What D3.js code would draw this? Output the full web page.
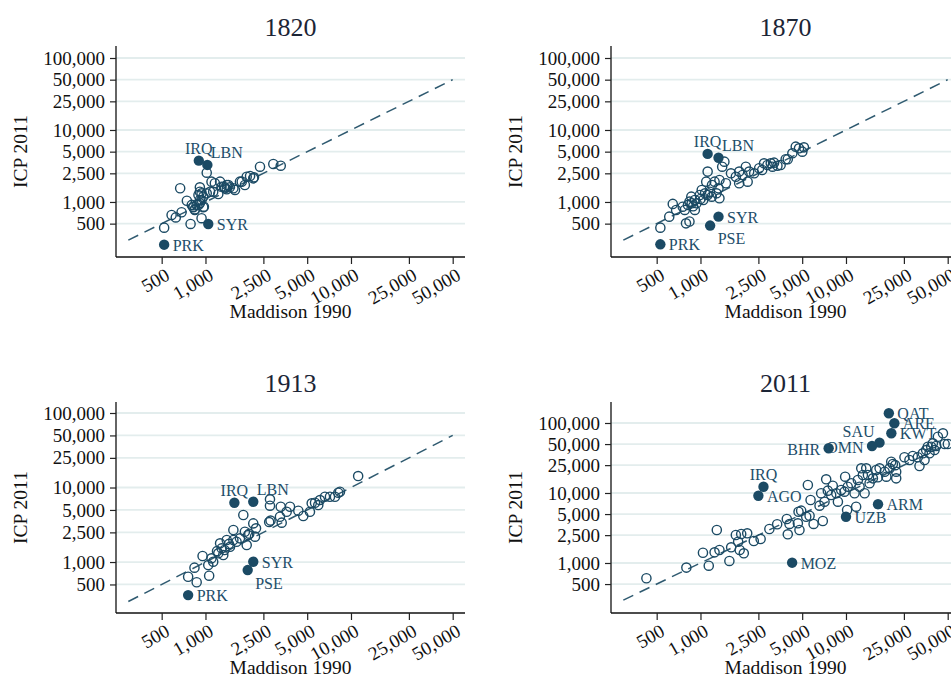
<!DOCTYPE html>
<html><head><meta charset="utf-8">
<script src="https://cdn.jsdelivr.net/npm/d3@7"></script>
<style>body{margin:0;background:#fff}svg{display:block}</style>
</head><body><svg id="c" width="951" height="678"></svg>
<script>
// ---------------- DATA ----------------
const xTicks = [500, 1000, 2500, 5000, 10000, 25000, 50000];
const yTicks = [500, 1000, 2500, 5000, 10000, 25000, 50000, 100000];
const years = ["1820", "1870", "1913", "2011"];
const xTitle = "Maddison 1990";
const yTitle = "ICP 2011";
const fitRange = [295, 50000]; // 45-degree reference line

// unlabelled countries: [Maddison 1990, ICP 2011]
const open1820 = [[520,440],[585,660],[625,610],[685,720],[670,1550],[745,1040],[790,495],[805,910],[845,775],[825,860],
[915,1600],[940,595],[915,1065],[895,910],[965,1185],[940,1320],[975,860],[1020,1320],[1075,1390],[1160,1820],
[1260,1915],[1225,1290],[1130,1390],[1400,1720],[1470,1600],[1400,1500],[1555,1550],[1775,1915],[1865,1720],[1920,2245],
[2025,2295],[2155,2200],[2370,3090],[2925,3375],[3290,3190],[1340,1630],[1020,2550],[825,845],[870,910],[915,960],
[965,845],[845,790],[940,1065],[915,1390],[895,1250],[1290,1630],[1360,1550],[1435,1720],[1595,1470],[1725,1915],[2130,2130],[1100,1915]];
const open1870 = [[530,440],[1460,3630],[1410,3090],[1120,2640],[1095,1915],[1250,1915],[1350,2020],[1330,1550],[1350,1125],[1200,1720],
[1495,1820],[1620,2500],[1750,2245],[1845,2640],[2050,3090],[2160,2640],[2340,2500],[1945,2370],[1845,1820],[2110,1915],
[2530,2940],[2735,3445],[2885,3265],[3040,3445],[3205,3515],[3125,3090],[3555,3265],[3850,3920],[4280,4745],[4515,5865],
[4755,5570],[5010,5000],[5140,5740],[645,940],[680,775],[610,625],[795,505],[840,535],[780,775],[820,910],
[865,1185],[840,1010],[915,1065],[940,960],[990,1250],[1020,1470],[1045,1065],[1075,1320],[1160,1390],[1195,1185],
[1290,1320],[915,775],[755,860],[2655,2780],[3380,3190],[3980,3920],[870,960],[1000,1100],[1120,1250],[890,870]];
const open1913 = [[760,635],[870,535],[840,840],[955,1205],[1060,655],[1045,910],[1130,1010],[1100,1120],[1225,1310],[1260,1780],
[1325,1240],[1290,1525],[1400,1975],[1475,1600],[1555,1975],[1555,2690],[1635,1870],[1725,2080],[1820,4280],[1865,2550],
[1920,1690],[1965,2300],[2130,3300],[2190,2190],[2225,2830],[2775,6950],[2775,5700],[2740,3440],[3250,4055],[3340,3375],
[3290,5520],[3810,5520],[3615,4730],[4345,4885],[4700,4145],[5225,4730],[5370,6140],[5660,6250],[5960,5820],[6120,6790],
[6625,7520],[7170,7520],[7760,7520],[8180,8510],[8400,8790],[11200,14250],[1350,1450],[1450,1750],[1200,1400],[2000,2400],[2800,3600]];
const open2011 = [[425,605],[800,860],[1040,1400],[1140,915],[1250,1420],[1350,1535],[1295,2960],[1580,1070],[1625,1675],[1750,2510],
[1815,2015],[1860,1535],[1905,2595],[1985,1375],[2095,2655],[2325,2060],[2590,2200],[2975,3060],[3365,3575],[3980,2570],
[3920,4250],[4090,3610],[4670,3690],[4790,2960],[4720,5400],[4920,5590],[5330,4580],[5620,4740],[5990,3610],[5470,13000],
[5710,7940],[6580,6590],[6930,3980],[6750,9910],[7310,15700],[7500,10800],[7120,7510],[8110,12700],[7910,9360],[8570,9910],
[8800,7510],[9270,11040],[9770,10450],[9870,17100],[10280,12300],[10180,5720],[11740,6370],[11450,9910],[10870,13770],[12070,15350],
[12730,22540],[13780,22540],[13430,9910],[12400,12300],[13060,18070],[14520,13770],[14150,18070],[15310,16200],[16140,21330],[17020,22540],
[16580,16750],[18440,20140],[18940,17100],[19970,22540],[20460,28000],[21000,25950],[22130,20140],[22130,16200],[21800,25000],[25230,32400],
[27300,29600],[28780,33800],[31160,32400],[32000,24300],[33730,36900],[34660,29600],[35550,41100],[37490,36900],[38530,45800],[40600,41100],
[41700,46900],[39550,51200],[42830,63600],[46380,71300],[47660,50100],[50100,50100],[36500,45800]];

// labelled countries: [code, Maddison 1990, ICP 2011]
const lab1820 = [["IRQ",900,3750],["LBN",1030,3270],["SYR",1045,495],["PRK",520,255]];
const lab1870 = [["IRQ",1120,4650],["LBN",1330,4120],["SYR",1330,625],["PSE",1165,470],["PRK",530,258]];
const lab1913 = [["IRQ",1580,6250],["LBN",2130,6440],["SYR",2130,1010],["PSE",1950,780],["PRK",760,360]];
const lab2011 = [["QAT",19700,137700],["ARE",21500,99000],["KWT",20500,71300],["SAU",17000,52400],["OMN",15100,46900],
["BHR",7600,43500],["IRQ",2710,12300],["AGO",2500,9140],["ARM",16600,6900],["UZB",10000,4580],["MOZ",4265,1010]];

const openData = {"1820":open1820,"1870":open1870,"1913":open1913,"2011":open2011};
const labData = {"1820":lab1820,"1870":lab1870,"1913":lab1913,"2011":lab2011};

// ---------------- LAYOUT / STYLE ----------------
const layout = {
  "1820": {L:116, R:465, T:46,  B:257, yMin:172, yMax:146800, titleY:36},
  "1870": {L:611, R:960, T:46,  B:257, yMin:172, yMax:146800, titleY:36},
  "1913": {L:116, R:465, T:402, B:613, yMin:207, yMax:140500, titleY:392},
  "2011": {L:611, R:960, T:402, B:613, yMin:193, yMax:199500, titleY:392}
};
const xDomain = [242.7, 60750];
const labelPos = {
  "1820": {IRQ:12, LBN:1, SYR:3, PRK:3},
  "1870": {IRQ:12, LBN:1, SYR:3, PSE:5, PRK:3},
  "1913": {IRQ:12, LBN:1, SYR:3, PSE:5, PRK:3},
  "2011": {QAT:3, ARE:3, KWT:3, SAU:11, OMN:9, BHR:9, IRQ:12, AGO:3, ARM:3, UZB:3, MOZ:3}
};
const offs = {
  3:  {dx:8.5, dy:6,  a:"start"},
  12: {dx:0,   dy:-7, a:"middle"},
  1:  {dx:3.5, dy:-7, a:"start"},
  9:  {dx:-8.5,dy:6.5,a:"end"},
  11: {dx:-5,  dy:-6, a:"end"},
  5:  {dx:7.5, dy:18.5,a:"start"}
};
const serif = "'Liberation Serif','Times New Roman',serif";
const mk = "#1b4a64";
const fmt = d3.format(",");

const svg = d3.select("#c");

years.forEach(yr => {
  const P = layout[yr];
  const x = d3.scaleLog().domain(xDomain).range([P.L, P.R]);
  const y = d3.scaleLog().domain([P.yMin, P.yMax]).range([P.B, P.T]);
  const g = svg.append("g");

  // grid
  g.selectAll(".grid").data(yTicks).enter().append("line")
    .attr("x1", P.L).attr("x2", P.R)
    .attr("y1", d => y(d)).attr("y2", d => y(d))
    .attr("stroke", "#e3eded").attr("stroke-width", 1.8);

  // axes
  const yAxis = d3.axisLeft(y).tickValues(yTicks).tickFormat(fmt).tickSize(6).tickPadding(5);
  const ya = g.append("g").attr("transform", `translate(${P.L},0)`).call(yAxis);
  const xAxis = d3.axisBottom(x).tickValues(xTicks).tickFormat(fmt).tickSize(7).tickPadding(4);
  const xa = g.append("g").attr("transform", `translate(0,${P.B})`).call(xAxis);
  [ya, xa].forEach(a => {
    a.select(".domain").attr("stroke", "#111").attr("stroke-width", 1.3)
      .attr("d", a === ya ? `M0,${P.T}V${P.B}` : `M${P.L},0H${P.R}`);
    a.selectAll(".tick line").attr("stroke", "#222").attr("stroke-width", 1.2);
    a.selectAll(".tick text").attr("font-family", serif).attr("font-size", 19).attr("fill", "#111");
  });
  xa.selectAll(".tick text")
    .attr("text-anchor", "end").attr("y", 0).attr("dy", "0.72em")
    .attr("transform", "translate(2,10) rotate(-30)");

  // titles
  g.append("text").attr("x", (P.L + P.R) / 2).attr("y", P.titleY)
    .attr("text-anchor", "middle").attr("font-family", serif).attr("font-size", 26)
    .attr("fill", "#1c2536").text(yr);
  g.append("text").attr("x", (P.L + P.R) / 2).attr("y", P.B + 61)
    .attr("text-anchor", "middle").attr("font-family", serif).attr("font-size", 19.5)
    .attr("fill", "#111").text(xTitle);
  g.append("text").attr("transform", `translate(${P.L - 89},${(P.T + P.B) / 2}) rotate(-90)`)
    .attr("text-anchor", "middle").attr("font-family", serif).attr("font-size", 19.5)
    .attr("fill", "#111").text(yTitle);

  // 45-degree line
  g.append("line")
    .attr("x1", x(fitRange[0])).attr("y1", y(fitRange[0]))
    .attr("x2", x(fitRange[1])).attr("y2", y(fitRange[1]))
    .attr("stroke", "#2f5a70").attr("stroke-width", 1.5).attr("stroke-dasharray", "11,7");

  // hollow markers
  g.selectAll(".o").data(openData[yr]).enter().append("circle")
    .attr("cx", d => x(d[0])).attr("cy", d => y(d[1])).attr("r", 4.6)
    .attr("fill", "none").attr("stroke", mk).attr("stroke-width", 1.4);

  // filled labelled markers
  const L = labData[yr];
  g.selectAll(".f").data(L).enter().append("circle")
    .attr("cx", d => x(d[1])).attr("cy", d => y(d[2])).attr("r", 5.2)
    .attr("fill", mk);
  g.selectAll(".lab").data(L).enter().append("text")
    .attr("x", d => x(d[1]) + offs[labelPos[yr][d[0]]].dx)
    .attr("y", d => y(d[2]) + offs[labelPos[yr][d[0]]].dy)
    .attr("text-anchor", d => offs[labelPos[yr][d[0]]].a)
    .attr("font-family", serif).attr("font-size", 16).attr("fill", "#1d4e6a")
    .text(d => d[0]);
});
</script></body></html>
